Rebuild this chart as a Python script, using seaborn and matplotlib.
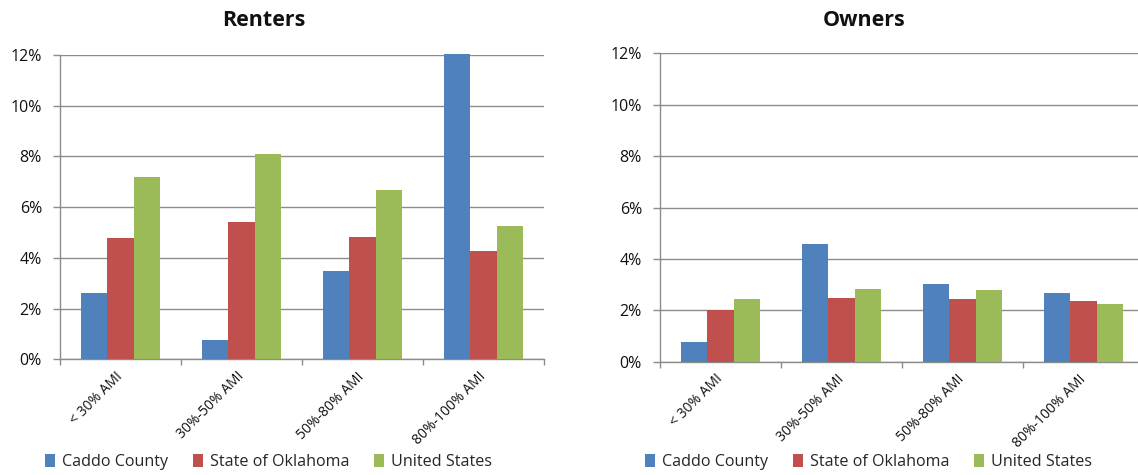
import matplotlib
matplotlib.use("Agg")
import matplotlib.pyplot as plt
import seaborn as sns
import pandas as pd
from matplotlib.patches import Patch
from matplotlib.ticker import FuncFormatter, MultipleLocator, FixedLocator

categories = ["< 30% AMI", "30%-50% AMI", "50%-80% AMI", "80%-100% AMI"]
series = ["Caddo County", "State of Oklahoma", "United States"]
renters_caddo = [2.60, 0.77, 3.50, 12.05]
renters_ok = [4.79, 5.43, 4.84, 4.29]
renters_us = [7.18, 8.11, 6.67, 5.24]
owners_caddo = [0.75, 4.58, 3.01, 2.66]
owners_ok = [2.03, 2.48, 2.43, 2.37]
owners_us = [2.43, 2.81, 2.78, 2.23]
colors = ["#4F81BD", "#C0504D", "#9BBB59"]
titles = ["Renters", "Owners"]


def long_df(a, b, c):
    rows = []
    for s, vals in zip(series, [a, b, c]):
        for cat, v in zip(categories, vals):
            rows.append({"cat": cat, "series": s, "value": v})
    return pd.DataFrame(rows)


sns.set_theme(style="white")
plt.rcParams["font.family"] = ["Open Sans", "DejaVu Sans"]

W, H = 1138, 475
fig = plt.figure(figsize=(W / 100, H / 100), dpi=100)

# axes rectangles in pixels: x0, y_top, y_bottom
rects = [(60, 55.0, 359.3), (660, 53.3, 361.7)]
axw = 484
data = [long_df(renters_caddo, renters_ok, renters_us),
        long_df(owners_caddo, owners_ok, owners_us)]
title_cx = [264, 864]
grid_c = "#8C8C8C"

for i, (x0, yt, yb) in enumerate(rects):
    ax = fig.add_axes([x0 / W, 1 - yb / H, axw / W, (yb - yt) / H])
    sns.barplot(data=data[i], x="cat", y="value", hue="series",
                order=categories, hue_order=series, palette=colors,
                width=0.66, linewidth=0, saturation=1, ax=ax, legend=False)
    for p in ax.patches:
        p.set_clip_on(False)
        p.set_zorder(3)
    ax.set_xlim(-0.5, 3.5)
    ax.set_ylim(0, 12)
    ax.yaxis.set_major_locator(MultipleLocator(2))
    ax.yaxis.set_major_formatter(FuncFormatter(lambda v, p: f"{v:.0f}%"))
    ax.yaxis.grid(True, color=grid_c, linewidth=1.0, zorder=0)
    ax.set_axisbelow(True)
    ax.set_xlabel("")
    ax.set_ylabel("")
    for s in ["top", "right"]:
        ax.spines[s].set_visible(False)
    for s in ["left", "bottom"]:
        ax.spines[s].set_color(grid_c)
        ax.spines[s].set_linewidth(1.0)
    ax.tick_params(axis="y", which="major", left=True, length=5, width=1,
                   color=grid_c, labelsize=11.5, pad=8, labelcolor="#111111")
    ax.xaxis.set_minor_locator(FixedLocator([-0.5, 0.5, 1.5, 2.5, 3.5]))
    ax.tick_params(axis="x", which="minor", bottom=True, length=4, width=1,
                   color=grid_c)
    ax.tick_params(axis="x", which="major", bottom=False, length=0, pad=11,
                   labelsize=10, labelcolor="#111111")
    ax.set_xticks(range(len(categories)))
    ax.set_xticklabels(categories, rotation=45, ha="right",
                       rotation_mode="anchor")
    for lab in ax.get_xticklabels():
        lab.set_va("center")

    fig.text(title_cx[i] / W, 1 - 26 / H, titles[i], ha="center",
             va="baseline", fontsize=15.5, fontweight="bold", color="#111111")

    handles = [Patch(facecolor=c, edgecolor="none", label=s)
               for c, s in zip(colors, series)]
    fig.legend(handles=handles, loc="center", ncol=3, frameon=False,
               bbox_to_anchor=(title_cx[i] / W + 0.004, 1 - 462 / H),
               fontsize=11.6, handlelength=0.6, handleheight=0.8,
               handletextpad=0.45, columnspacing=1.55, borderpad=0)

fig.savefig("out.png", dpi=100, facecolor="white")
